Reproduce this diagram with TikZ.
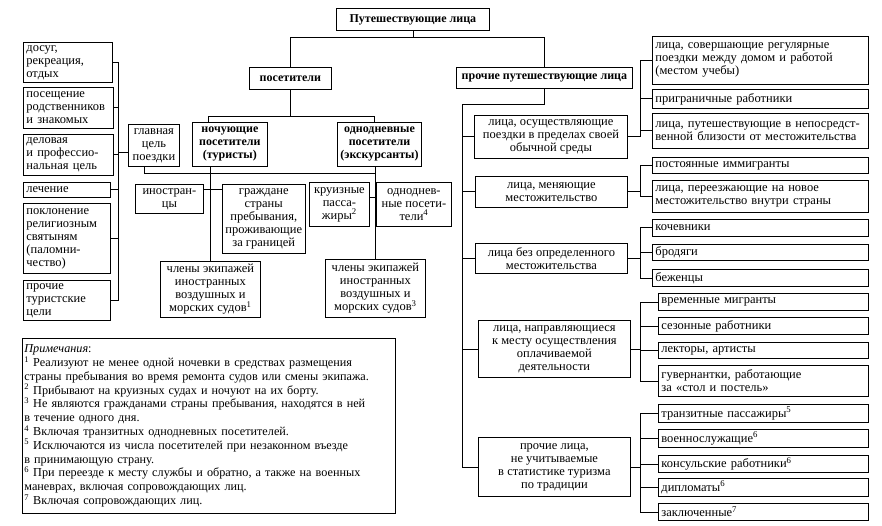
\documentclass[tikz,border=0pt]{standalone}
\usepackage{fontspec}
\setmainfont{Liberation Serif}
\usetikzlibrary{positioning}

\begin{document}
\begin{tikzpicture}[
    x=1pt, y=-1pt,
    box/.style={
        draw, line width=0.8pt, anchor=north west,
        inner xsep=3pt, inner ysep=0pt,
        align=center, font={\fontsize{12.5}{13}\selectfont\lineskiplimit -10pt}
    },
    bbox/.style={box, font={\fontsize{12}{13}\selectfont\bfseries\lineskiplimit -10pt}},
    lbox/.style={box, align=left},
    line/.style={line width=0.8pt}
]
\useasboundingbox (0,0) rectangle (882,526);

% top levels
\node[bbox, minimum width=153, minimum height=22] (top) at (336,8) {Путешествующие лица};
\node[bbox, minimum width=82, minimum height=22] (pos) at (249,67) {посетители};
\node[bbox, minimum width=176, minimum height=21] (proch) at (456,67) {прочие путешествующие лица};

% visitors
\node[bbox, minimum width=75, minimum height=44] (noch) at (192,122)
    {ночующие\\посетители\\(туристы)};
\node[bbox, minimum width=81, minimum height=44] (odn) at (337,122)
    {однодневные\\посетители\\(экскурсанты)};
\node[box, minimum width=51, minimum height=42] (glav) at (128,124)
    {главная\\цель\\поездки};
\node[box, minimum width=68, minimum height=29] (inostr) at (135,184) {иностран-\\цы};
\node[box, minimum width=78, minimum height=69] (grazh) at (222,184)
    {граждане\\страны\\пребывания,\\проживающие\\за границей};
\node[box, minimum width=100, minimum height=56] (chl1) at (160,261)
    {члены экипажей\\иностранных\\воздушных и\\морских судов\textsuperscript{1}};
\node[box, minimum width=60, minimum height=44] (kruiz) at (309,182)
    {круизные\\пасса-\\жиры\textsuperscript{2}};
\node[box, minimum width=75, minimum height=44] (odnp) at (376,182)
    {одноднев-\\ные посети-\\тели\textsuperscript{4}};
\node[box, minimum width=100, minimum height=58] (chl3) at (325,259)
    {члены экипажей\\иностранных\\воздушных и\\морских судов\textsuperscript{3}};

% purposes of the trip
\node[lbox, text width=83pt, minimum height=40] (dosug) at (23,42)
    {досуг,\\рекреация,\\отдых};
\node[lbox, text width=84pt, minimum height=41] (rodst) at (23,87)
    {посещение\\родственников\\и знакомых};
\node[lbox, text width=84pt, minimum height=41] (delov) at (23,134)
    {деловая\\и профессио-\\нальная цель};
\node[lbox, text width=81pt, minimum height=15] (lech) at (23,182) {лечение};
\node[lbox, text width=81pt, minimum height=70] (pokl) at (23,203)
    {поклонение\\религиозным\\святыням\\(паломни-\\чество)};
\node[lbox, text width=81pt, minimum height=40] (prochc) at (23,280)
    {прочие\\туристские\\цели};

% other travellers
\node[box, minimum width=153, minimum height=43] (osush) at (474,115)
    {лица, осуществляющие\\поездки в пределах своей\\обычной среды};
\node[box, minimum width=152, minimum height=31] (menya) at (475,176)
    {лица, меняющие\\местожительство};
\node[box, minimum width=152, minimum height=30] (bez) at (475,243)
    {лица без определенного\\местожительства};
\node[box, minimum width=152, minimum height=57] (naprav) at (478,320)
    {лица, направляющиеся\\к месту осуществления\\оплачиваемой\\деятельности};
\node[box, minimum width=152, minimum height=59] (prochl) at (478,437)
    {прочие лица,\\не учитываемые\\в статистике туризма\\по традиции};

\node[lbox, text width=210pt, minimum height=48] (sover) at (652,36)
    {лица, совершающие регулярные\\поездки между домом и работой\\(местом учебы)};
\node[lbox, text width=210pt, minimum height=19] (prigr) at (652,89) {приграничные работники};
\node[lbox, text width=210pt, minimum height=35] (nepos) at (652,113)
    {лица, путешествующие в непосредст-\\венной близости от местожительства};
\node[lbox, text width=210pt, minimum height=16] (postim) at (652,157) {постоянные иммигранты};
\node[lbox, text width=210pt, minimum height=32] (pereez) at (652,180)
    {лица, переезжающие на новое\\местожительство внутри страны};
\node[lbox, text width=210pt, minimum height=17] (kochev) at (652,219) {кочевники};
\node[lbox, text width=210pt, minimum height=16] (brod) at (652,244) {бродяги};
\node[lbox, text width=210pt, minimum height=17] (bezh) at (652,269) {беженцы};
\node[lbox, text width=204pt, minimum height=17] (vremm) at (658,293) {временные мигранты};
\node[lbox, text width=204pt, minimum height=17] (sezon) at (658,317) {сезонные работники};
\node[lbox, text width=204pt, minimum height=16] (lekt) at (658,342) {лекторы, артисты};
\node[lbox, text width=204pt, minimum height=31] (guvern) at (658,365)
    {гувернантки, работающие\\за «стол и постель»};
\node[lbox, text width=204pt, minimum height=18] (tranz) at (658,404)
    {транзитные пассажиры\textsuperscript{5}};
\node[lbox, text width=204pt, minimum height=18] (voen) at (658,429)
    {военнослужащие\textsuperscript{6}};
\node[lbox, text width=204pt, minimum height=17] (konsul) at (658,455)
    {консульские работники\textsuperscript{6}};
\node[lbox, text width=204pt, minimum height=18] (dipl) at (658,478)
    {дипломаты\textsuperscript{6}};
\node[lbox, text width=204pt, minimum height=17] (zakl) at (658,503)
    {заключенные\textsuperscript{7}};

% notes
\node[lbox, inner xsep=2pt, text width=369pt, minimum height=175,
      font={\fontsize{12.2}{13.8}\selectfont\lineskiplimit -10pt}] (notes) at (22,338)
    {\textit{Примечания}:\\
    \textsuperscript{1} Реализуют не менее одной ночевки в средствах размещения\\
    страны пребывания во время ремонта судов или смены экипажа.\\
    \textsuperscript{2} Прибывают на круизных судах и ночуют на их борту.\\
    \textsuperscript{3} Не являются гражданами страны пребывания, находятся в ней\\
    в течение одного дня.\\
    \textsuperscript{4} Включая транзитных однодневных посетителей.\\
    \textsuperscript{5} Исключаются из числа посетителей при незаконном въезде\\
    в принимающую страну.\\
    \textsuperscript{6} При переезде к месту службы и обратно, а также на военных\\
    маневрах, включая сопровождающих лиц.\\
    \textsuperscript{7} Включая сопровождающих лиц.};

% connectors
\draw[line] (top.south) -- ++(0,7) coordinate (tj);
\draw[line] (tj) -| (pos.north);
\draw[line] (tj) -| (proch.north);

\draw[line] (pos.south) -- ++(0,27) coordinate (vj);
\draw[line] (vj) -| ([xshift=-22pt]noch.north);
\draw[line] (vj) -| ([xshift=-5pt]odn.north);

\draw[line] ([xshift=-10pt]glav.south) -- ++(0,7) -| (chl3.north);
\draw[line] (odn.south -| chl3.north) -- (chl3.north);
\draw[line] (noch.south -| chl1.north) -- (chl1.north);
\draw[line] ([yshift=-5pt]inostr.north east) coordinate (ig) -- (ig -| grazh.west);
\draw[line] ([yshift=-15pt]kruiz.north east) coordinate (ko) -- (ko -| odnp.west);

\draw[line] ([yshift=-7pt]glav.west) -- ++(-10,0) coordinate (lj);
\foreach \n in {dosug,rodst,delov,lech,pokl,prochc}
    \draw[line] (lj) |- (\n.east);

\draw[line] (proch.south) -- ++(0,16) -- ++(-82,0) coordinate (rj);
\foreach \n in {osush,menya,bez,naprav,prochl}
    \draw[line] (rj) |- (\n.west);

\coordinate (rb) at (640,0);
\foreach \p/\c in {osush/sover, osush/prigr, osush/nepos, menya/postim, menya/pereez,
    bez/kochev, bez/brod, bez/bezh, naprav/vremm, naprav/sezon, naprav/lekt,
    naprav/guvern, prochl/tranz, prochl/voen, prochl/konsul, prochl/dipl, prochl/zakl}
    \draw[line] (\p.east) -- (\p.east -| rb) |- (\c.west);
\end{tikzpicture}
\end{document}
